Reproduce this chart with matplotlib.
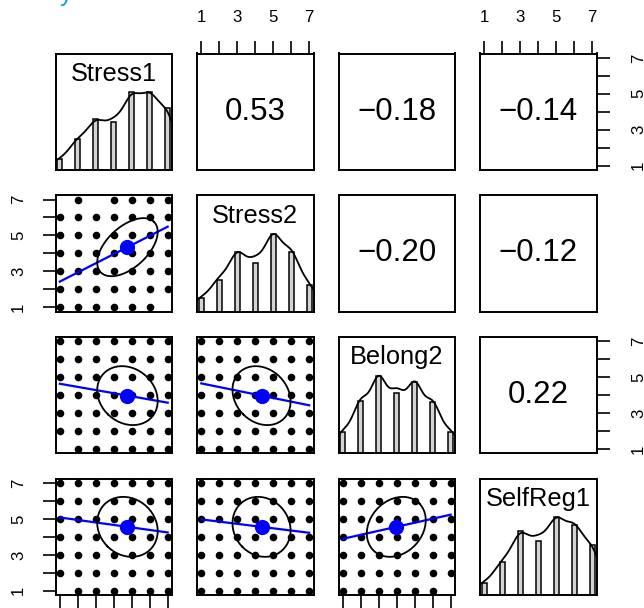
import numpy as np
import matplotlib.pyplot as plt

plt.rcParams['font.family'] = ['Liberation Sans', 'DejaVu Sans']

# item names and response levels
names = ['Stress1', 'Stress2', 'Belong2', 'SelfReg1']
levels = [1, 2, 3, 4, 5, 6, 7]

# frequency of each response level
stress1_counts = [7, 20, 33, 31, 50, 50, 40]
stress2_counts = [10, 23, 43, 35, 56, 43, 19]
belong2_counts = [14, 34, 50, 39, 46, 33, 14]
selfreg1_counts = [8, 21, 41, 35, 50, 45, 32]
counts = [stress1_counts, stress2_counts, belong2_counts, selfreg1_counts]

# correlations shown in the upper panels
cor_pairs = [(0, 1), (0, 2), (0, 3), (1, 2), (1, 3), (2, 3)]
cor_values = [0.53, -0.18, -0.14, -0.20, -0.12, 0.22]

# (x, y) combinations that do not occur in each lower panel
missing = {
    (1, 0): [(1, 7), (3, 7), (7, 1)],
    (2, 0): [(1, 1)],
    (2, 1): [],
    (3, 0): [(1, 1)],
    (3, 1): [],
    (3, 2): [(7, 1)],
}

W, H = 644, 608
fig = plt.figure(figsize=(W / 100, H / 100), dpi=100)

lims = (0.76, 7.24)
size = 116.5


def box(i, j):
    x0 = 55.5 + 141.5 * j
    y0 = 53.5 + 141.7 * i
    return [x0 / W, 1 - (y0 + size) / H, size / W, size / H]


def expand(c):
    return np.repeat(levels, c).astype(float)


def density(c):
    data = expand(c)
    n = len(data)
    sd = data.std(ddof=1)
    iqr = np.subtract(*np.percentile(data, [75, 25]))
    bw = 0.9 * min(sd, iqr / 1.34) * n ** -0.2
    xs = np.linspace(data.min() - 3 * bw, data.max() + 3 * bw, 512)
    ys = np.exp(-0.5 * ((xs[:, None] - data[None, :]) / bw) ** 2).sum(1)
    return xs, ys / ys.max()


cor = {}
for (a, b), r in zip(cor_pairs, cor_values):
    cor[(a, b)] = r
    cor[(b, a)] = r

tick_kw = dict(length=9.4, width=1.2, direction='out')
lab_fs = 12.1

for i in range(4):
    for j in range(4):
        ax = fig.add_axes(box(i, j))
        ax.set_xlim(lims)
        ax.set_xticks([])
        ax.set_yticks([])
        for sp in ax.spines.values():
            sp.set_linewidth(1.4)

        if i == j:
            ax.set_ylim(0, 1.5)
            c = np.array(counts[i], dtype=float)
            half = min(np.diff(levels)) * (len(levels) - 1) / 41
            ax.bar(levels, c / c.max(), width=2 * half, color='#D3D3D3',
                   edgecolor='black', linewidth=1.1)
            dx, dy = density(counts[i])
            ax.plot(dx, dy, color='black', lw=1.3)
            ax.text(0.5, 0.825, names[i], transform=ax.transAxes,
                    ha='center', va='center', fontsize=18.3)
        elif i < j:
            ax.set_ylim(lims)
            txt = f"{cor[(i, j)]:.2f}".replace('-', '\u2212')
            ax.text(0.5, 0.5, txt, transform=ax.transAxes,
                    ha='center', va='center', fontsize=22.5)
        else:
            ax.set_ylim(lims)
            gx, gy = np.meshgrid(levels, levels)
            pts = [(x, y) for x, y in zip(gx.ravel(), gy.ravel())
                   if (x, y) not in missing[(i, j)]]
            px = [p[0] for p in pts]
            py = [p[1] for p in pts]
            ax.scatter(px, py, s=30, color='black', linewidths=0, zorder=2)

            xd, yd = expand(counts[j]), expand(counts[i])
            mx, my = xd.mean(), yd.mean()
            sx, sy = xd.std(ddof=1), yd.std(ddof=1)
            r = cor[(i, j)]
            slope = r * sy / sx
            xr = np.array([xd.min(), xd.max()])
            ax.plot(xr, my + slope * (xr - mx), color='#0000FF', lw=1.6, zorder=3)
            ax.scatter([mx], [my], s=120, color='#0000FF', linewidths=0, zorder=4)

            ang = np.arange(52) * 2 * np.pi / 51
            t = np.sign(r) / np.sqrt(2) if r != 0 else 1 / np.sqrt(2)
            a, b = np.sqrt(1 + r), np.sqrt(1 - r)
            ex = t * (a * np.cos(ang) - b * np.sin(ang))
            ey = t * (a * np.cos(ang) + b * np.sin(ang))
            ax.plot(ex * sx + mx, ey * sy + my, color='black', lw=1.3, zorder=5)

        # outer axes, alternating like R's pairs()
        if i == 0 and j in (1, 3):
            ax.set_xticks(levels)
            ax.tick_params(axis='x', top=True, bottom=False,
                           labeltop=False, labelbottom=False, **tick_kw)
            for k in levels[::2]:
                ax.text(k, 1 + 36.5 / size, str(k), transform=ax.get_xaxis_transform(),
                        ha='center', va='center', fontsize=lab_fs)
        if i == 3 and j in (0, 2):
            ax.set_xticks(levels)
            ax.tick_params(axis='x', top=False, bottom=True,
                           labeltop=False, labelbottom=False, **tick_kw)
            for k in levels[::2]:
                ax.text(k, -36.5 / size, str(k), transform=ax.get_xaxis_transform(),
                        ha='center', va='center', fontsize=lab_fs)
        if j == 0 and i in (1, 3):
            ax.set_yticks(levels)
            ax.tick_params(axis='y', left=True, right=False,
                           labelleft=False, labelright=False, **tick_kw)
            for k in levels[::2]:
                ax.text(-37 / size, k, str(k), transform=ax.get_yaxis_transform(),
                        ha='center', va='center', rotation=90, fontsize=lab_fs)
        if j == 3 and i in (0, 2):
            ax.set_yticks(levels)
            ax.tick_params(axis='y', left=False, right=True,
                           labelleft=False, labelright=False, **tick_kw)
            for k in levels[::2]:
                ax.text(1 + 42 / size, k, str(k), transform=ax.get_yaxis_transform(),
                        ha='center', va='center', rotation=90, fontsize=lab_fs)

# title text cut off at the top edge
fig.text(66 / W, 1 - 1.5 / H, 'y', color='#1B9AD6', fontsize=18,
         ha='center', va='baseline')

fig.savefig('out.png', dpi=100)
